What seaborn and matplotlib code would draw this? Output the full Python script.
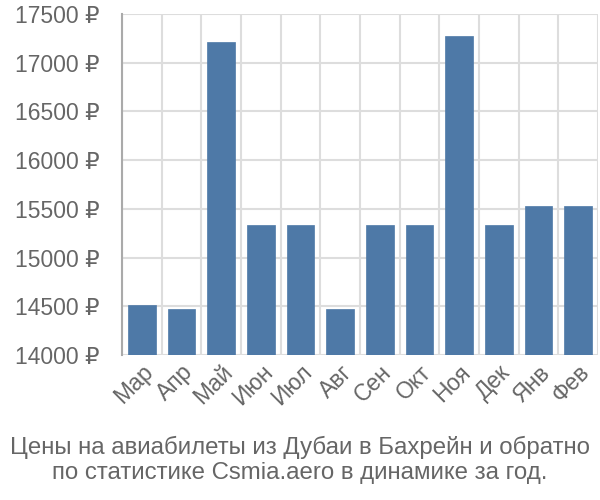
import matplotlib
matplotlib.use("Agg")
import matplotlib.pyplot as plt
import seaborn as sns
import pandas as pd
import numpy as np
from matplotlib.ticker import FuncFormatter, FixedLocator

months = ["Мар", "Апр", "Май", "Июн", "Июл", "Авг", "Сен", "Окт", "Ноя", "Дек", "Янв", "Фев"]
prices = [14510, 14470, 17210, 15335, 15335, 14470, 15335, 15335, 17275, 15335, 15530, 15530]
yticks = [14000, 14500, 15000, 15500, 16000, 16500, 17000, 17500]
caption = "Цены на авиабилеты из Дубаи в Бахрейн и обратно\nпо статистике Csmia.aero в динамике за год."

sns.set_theme(style="white")
plt.rcParams['font.family'] = ['Liberation Sans', 'DejaVu Sans']

text_color = "#666666"
grid_color = "#dddddd"

df = pd.DataFrame({"month": months, "price": prices})

fig = plt.figure(figsize=(6, 5), dpi=100)
ax = fig.add_axes([122/600, 1 - 355/500, (598-122)/600, (355-14)/500])

sns.barplot(data=df, x="month", y="price", color="#4e79a7", saturation=1,
            width=0.7, ax=ax, zorder=3, edgecolor="#4e79a7", linewidth=0.5)

ax.set_ylim(14000, 17500)
ax.set_xlim(-0.5, len(months) - 0.5)
ax.set_yticks(yticks)
ax.yaxis.set_major_formatter(FuncFormatter(lambda v, p: f"{int(v)} ₽"))
ax.tick_params(axis="y", length=20, color=grid_color, width=1.5, labelsize=16.5,
               labelcolor=text_color, pad=-4)
ax.yaxis.grid(True, color=grid_color, linewidth=1.5, zorder=0)

# vertical gridlines at category boundaries
bounds = np.arange(len(months) + 1) - 0.5
ax.xaxis.set_minor_locator(FixedLocator(bounds))
ax.xaxis.grid(True, which="minor", color=grid_color, linewidth=1.5, zorder=0)
ax.tick_params(axis="x", which="minor", length=20, color=grid_color, width=1.5)
ax.tick_params(axis="x", which="major", length=0, labelsize=16.5, labelcolor=text_color, pad=4)
for lbl in ax.get_xticklabels():
    lbl.set_rotation(45)
    lbl.set_ha("right")
    lbl.set_rotation_mode("anchor")

ax.set_xlabel("")
ax.set_ylabel("")
for s in ["top", "right", "bottom"]:
    ax.spines[s].set_visible(False)
ax.spines["left"].set_color("#aaaaaa")
ax.spines["left"].set_linewidth(1.5)
ax.set_axisbelow(True)

fig.text(0.5, 1 - 460/500, caption, ha="center", va="center", fontsize=17.3,
         color=text_color, linespacing=1.22)

fig.savefig("out.png", dpi=100)
